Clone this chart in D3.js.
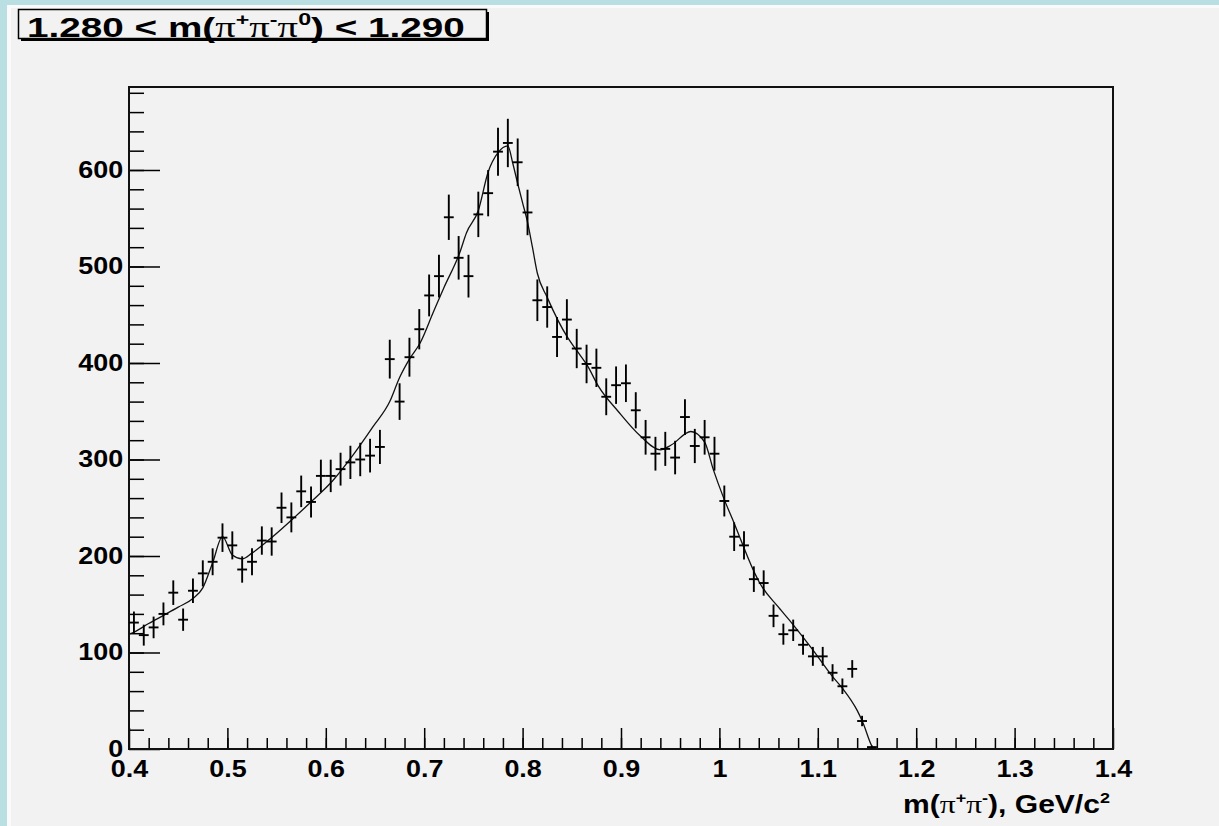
<!DOCTYPE html>
<html>
<head>
<meta charset="utf-8">
<script src="https://cdn.jsdelivr.net/npm/d3@7"></script>
<style>
html, body { margin: 0; padding: 0; background: #f2f2f2; }
svg { display: block; }
</style>
</head>
<body>
<svg id="chart" width="1219" height="826"></svg>
<script>
//////////////////////////
// Data
//////////////////////////

// histogram bin centres, GeV/c^2 (bin width 0.01)
const binCenters = [
    0.405, 0.415, 0.425, 0.435, 0.445, 0.455, 0.465, 0.475, 0.485, 0.495,
    0.505, 0.515, 0.525, 0.535, 0.545, 0.555, 0.565, 0.575, 0.585, 0.595,
    0.605, 0.615, 0.625, 0.635, 0.645, 0.655, 0.665, 0.675, 0.685, 0.695,
    0.705, 0.715, 0.725, 0.735, 0.745, 0.755, 0.765, 0.775, 0.785, 0.795,
    0.805, 0.815, 0.825, 0.835, 0.845, 0.855, 0.865, 0.875, 0.885, 0.895,
    0.905, 0.915, 0.925, 0.935, 0.945, 0.955, 0.965, 0.975, 0.985, 0.995,
    1.005, 1.015, 1.025, 1.035, 1.045, 1.055, 1.065, 1.075, 1.085, 1.095,
    1.105, 1.115, 1.125, 1.135, 1.145, 1.155
];

// entries per bin
const counts = [
    131, 118, 126, 140, 162, 134, 164, 182, 194, 219,
    211, 186, 194, 216, 215, 250, 240, 267, 256, 283,
    283, 290, 297, 300, 304, 313, 404, 360, 406, 435,
    470, 490, 551, 509, 490, 554, 576, 619, 628, 608,
    556, 465, 458, 427, 445, 415, 399, 395, 365, 377,
    379, 351, 323, 306, 311, 302, 344, 314, 323, 306,
    257, 220, 211, 176, 172, 138, 119, 123, 108, 96,
    96, 79, 65, 83, 29, 2
];

// fitted curve
const fitX = [
    0.400, 0.405, 0.420, 0.436, 0.450, 0.465, 0.475, 0.485, 0.495, 0.505,
    0.515, 0.525, 0.546, 0.567, 0.587, 0.607, 0.628, 0.648, 0.665, 0.675,
    0.685, 0.696, 0.709, 0.720, 0.736, 0.743, 0.755, 0.765, 0.775, 0.785,
    0.790, 0.795, 0.800, 0.805, 0.810, 0.815, 0.825, 0.846, 0.855, 0.866,
    0.877, 0.897, 0.920, 0.940, 0.951, 0.971, 0.985, 0.994, 1.004, 1.015,
    1.036, 1.041, 1.060, 1.074, 1.094, 1.115, 1.125, 1.140, 1.146, 1.155,
    1.157
];
const fitY = [
    119, 121, 130, 139, 147, 156, 167, 193, 220, 201,
    197, 203, 220, 239, 258, 278, 305, 334, 360, 385,
    404, 421, 452, 478, 514, 535, 558, 598, 618, 625,
    607, 586, 566, 546, 520, 493, 468, 426, 413, 397,
    376, 350, 324, 310, 315, 329, 318, 289, 261, 234,
    182, 172, 147, 130, 104, 75, 63, 40, 27, 3,
    0
];

const xTickValues = [0.4, 0.5, 0.6, 0.7, 0.8, 0.9, 1, 1.1, 1.2, 1.3, 1.4];
const yTickValues = [0, 100, 200, 300, 400, 500, 600];

//////////////////////////
// D3 Stuff
//////////////////////////

const W = 1219, H = 826;
const frame = { left: 129, top: 87, right: 1113, bottom: 749 };
const sansFont = '"Liberation Sans", Arial, Helvetica, sans-serif';

const svg = d3.select('#chart');

// pad background: light blue edge, thin light strip, grey pad
svg.append('rect').attr('width', W).attr('height', H).attr('fill', '#b9dfe2');
svg.append('rect').attr('x', 7).attr('y', 5).attr('width', W - 7).attr('height', H - 5).attr('fill', '#fafafa');
svg.append('rect').attr('x', 11).attr('y', 8).attr('width', W - 11).attr('height', H - 8).attr('fill', '#f2f2f2');

const xScale = d3.scaleLinear()
    .domain([0.4, 1.4])
    .range([frame.left, frame.right]);

const yScale = d3.scaleLinear()
    .domain([0, 686])
    .range([frame.bottom, frame.top]);

// ticks point inwards, like ROOT; labels are a bit wide in the picture
function styleAxis(g) {
    g.select('.domain').remove();
    g.selectAll('.tick line').attr('stroke', '#000').attr('stroke-width', 1.5);
    g.selectAll('.tick text')
        .attr('fill', '#000')
        .attr('transform', 'scale(1.17,1)')
        .style('font-family', sansFont)
        .style('font-weight', 'bold')
        .style('font-size', '23px');
}

svg.append('g')
    .attr('transform', 'translate(0,' + frame.bottom + ')')
    .call(d3.axisBottom(xScale).tickValues(d3.range(0.42, 1.4, 0.02)).tickSize(-11).tickFormat(''))
    .call(styleAxis);

svg.append('g')
    .attr('transform', 'translate(0,' + frame.bottom + ')')
    .call(d3.axisBottom(xScale).tickValues(xTickValues).tickSize(-21).tickPadding(12).tickFormat((d) => String(d)))
    .call(styleAxis);

svg.append('g')
    .attr('transform', 'translate(0,' + frame.bottom + ')')
    .call(d3.axisBottom(xScale).tickValues([]).tickSize(0))
    .call(styleAxis);

svg.append('g')
    .attr('transform', 'translate(' + frame.left + ',0)')
    .call(d3.axisLeft(yScale).tickValues(d3.range(20, 686, 20)).tickSize(-15).tickFormat(''))
    .call(styleAxis);

svg.append('g')
    .attr('transform', 'translate(' + frame.left + ',0)')
    .call(d3.axisLeft(yScale).tickValues(yTickValues).tickSize(-31).tickPadding(5).tickFormat((d) => String(d)))
    .call(styleAxis);

// frame
svg.append('rect')
    .attr('x', frame.left)
    .attr('y', frame.top)
    .attr('width', frame.right - frame.left)
    .attr('height', frame.bottom - frame.top)
    .attr('fill', 'none')
    .attr('stroke', '#111')
    .attr('stroke-width', 2);

// clip for marks
svg.append('clipPath').attr('id', 'plotClip')
    .append('rect')
    .attr('x', frame.left).attr('y', frame.top)
    .attr('width', frame.right - frame.left)
    .attr('height', frame.bottom - frame.top);

const plot = svg.append('g').attr('clip-path', 'url(#plotClip)');

// fit curve
const fitLine = d3.line()
    .x((d) => xScale(d[0]))
    .y((d) => yScale(d[1]))
    .curve(d3.curveMonotoneX);

plot.append('path')
    .datum(d3.zip(fitX, fitY))
    .attr('d', fitLine)
    .attr('fill', 'none')
    .attr('stroke', '#111')
    .attr('stroke-width', 1.3);

// data points with sqrt(N) errors and bin-width bars
const halfBin = 0.005;
const points = plot.selectAll('g.point')
    .data(d3.zip(binCenters, counts))
    .enter()
    .append('g')
    .attr('class', 'point')
    .attr('stroke', '#000')
    .attr('stroke-width', 1.9);

points.append('line')
    .attr('x1', (d) => xScale(d[0]))
    .attr('x2', (d) => xScale(d[0]))
    .attr('y1', (d) => yScale(d[1] - Math.sqrt(d[1])))
    .attr('y2', (d) => yScale(d[1] + Math.sqrt(d[1])));

points.append('line')
    .attr('x1', (d) => xScale(d[0] - halfBin))
    .attr('x2', (d) => xScale(d[0] + halfBin))
    .attr('y1', (d) => yScale(d[1]))
    .attr('y2', (d) => yScale(d[1]));

// stretch a text group horizontally to the width seen in the picture
function fitWidth(g, x0, y0, targetWidth) {
    const w = g.node().getBBox().width;
    g.attr('transform', 'translate(' + x0 + ',' + y0 + ') scale(' + (targetWidth / w) + ',1)');
}

// write "m(pi..)" style text with superscripts
function addMathText(parent, parts, size) {
    const t = parent.append('text')
        .attr('x', 0).attr('y', 0)
        .attr('fill', '#000')
        .style('font-size', size + 'px');
    let raised = false;
    parts.forEach((p) => {
        const s = t.append('tspan').text(p.text);
        if (p.sup) {
            s.attr('dy', -size * 0.42).style('font-size', (size * 0.6) + 'px');
            raised = true;
        } else if (raised) {
            s.attr('dy', size * 0.42);
            raised = false;
        }
        if (p.greek) {
            s.style('font-family', '"Liberation Serif", serif').style('font-weight', 'normal').style('font-size', (size * 1.05) + 'px');
        } else {
            s.style('font-family', sansFont).style('font-weight', 'bold');
        }
        if (p.sup) s.style('font-size', (size * 0.6) + 'px');
    });
    return t;
}

// title box with shadow
svg.append('rect').attr('x', 21).attr('y', 12).attr('width', 468).attr('height', 29).attr('fill', '#000');
svg.append('rect').attr('x', 18.5).attr('y', 9.5).attr('width', 468).attr('height', 29)
    .attr('fill', '#f2f2f2').attr('stroke', '#000').attr('stroke-width', 1.5);

const titleG = svg.append('g');
addMathText(titleG, [
    { text: '1.280 < m(' },
    { text: 'π', greek: true },
    { text: '+', sup: true },
    { text: 'π', greek: true },
    { text: '-', sup: true },
    { text: 'π', greek: true },
    { text: '0', sup: true },
    { text: ') < 1.290' }
], 28);
fitWidth(titleG, 27, 37, 438);

// x axis title, right-aligned at the frame end
const xTitleG = svg.append('g');
addMathText(xTitleG, [
    { text: 'm(' },
    { text: 'π', greek: true },
    { text: '+', sup: true },
    { text: 'π', greek: true },
    { text: '-', sup: true },
    { text: '), GeV/c' },
    { text: '2', sup: true }
], 25);
fitWidth(xTitleG, 903, 813, 207);
</script>
</body>
</html>
